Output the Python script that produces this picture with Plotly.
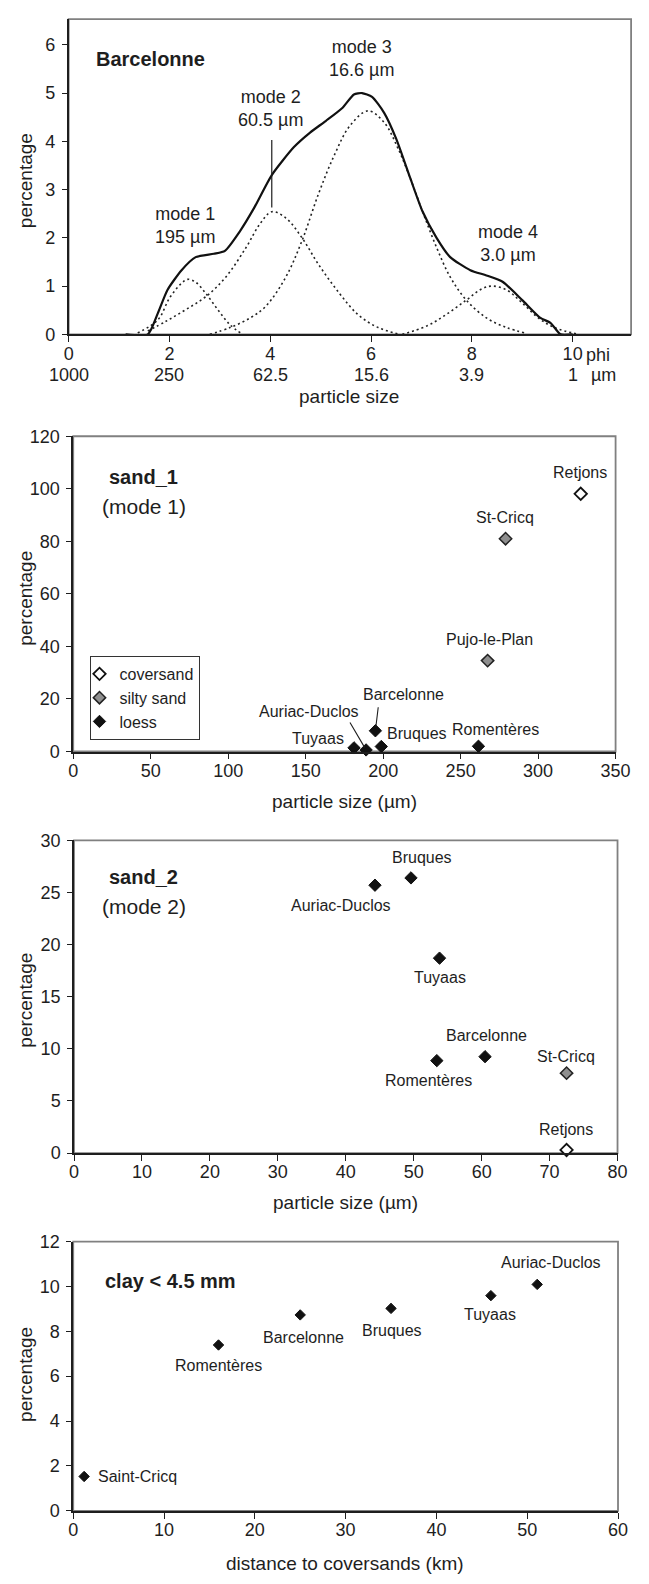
import plotly.graph_objects as go

# ---------------- data ----------------
# Panel 1: Barcelonne grain-size distribution (phi scale)
phi_ticks = [0, 2, 4, 6, 8, 10]
phi_labels = ["0", "2", "4", "6", "8", "10"]
um_labels = ["1000", "250", "62.5", "15.6", "3.9", "1"]

total_phi = [1.13, 1.57, 1.77, 1.96, 2.24, 2.52, 2.88, 3.10, 3.40, 3.68, 4.03, 4.47, 4.79, 5.10,
             5.43, 5.66, 5.82, 6.02, 6.26, 6.50, 6.78, 7.02, 7.30, 7.57, 7.97, 8.29, 8.61, 9.00,
             9.36, 9.56, 9.76, 10.0]
total_pct = [0.0, 0.0, 0.44, 0.92, 1.33, 1.60, 1.67, 1.73, 2.14, 2.62, 3.30, 3.88, 4.18, 4.42,
             4.69, 4.97, 5.00, 4.92, 4.59, 4.05, 3.23, 2.55, 2.00, 1.60, 1.33, 1.22, 1.09, 0.71,
             0.34, 0.24, 0.0, 0.0]

mode1_phi = [1.37, 1.77, 2.00, 2.24, 2.36, 2.52, 2.72, 2.96, 3.20, 3.45]
mode1_pct = [0.03, 0.30, 0.75, 1.06, 1.14, 1.08, 0.85, 0.51, 0.20, 0.0]
mode2_phi = [1.57, 1.93, 2.32, 2.72, 3.12, 3.52, 3.79, 4.03, 4.31, 4.63, 4.95, 5.35, 5.74, 6.14, 6.58]
mode2_pct = [0.07, 0.27, 0.51, 0.78, 1.19, 1.80, 2.28, 2.54, 2.41, 2.00, 1.46, 0.88, 0.41, 0.14, 0.0]
mode3_phi = [2.80, 3.20, 3.60, 3.91, 4.31, 4.63, 4.95, 5.27, 5.58, 5.94, 6.26, 6.54, 6.78, 7.02,
             7.30, 7.57, 7.89, 8.29, 8.69, 9.08]
mode3_pct = [0.0, 0.14, 0.34, 0.58, 1.19, 1.94, 2.89, 3.71, 4.32, 4.63, 4.39, 3.84, 3.23, 2.55,
             1.80, 1.19, 0.71, 0.34, 0.14, 0.02]
mode4_phi = [6.62, 7.10, 7.49, 7.89, 8.21, 8.41, 8.69, 9.00, 9.32, 9.64, 10.12]
mode4_pct = [0.0, 0.17, 0.41, 0.71, 0.95, 1.00, 0.92, 0.65, 0.34, 0.14, 0.0]

mode_names = ["mode 1<br>195 µm", "mode 2<br>60.5 µm", "mode 3<br>16.6 µm", "mode 4<br>3.0 µm"]
mode_label_phi = [2.30, 4.00, 5.82, 8.71]
mode_label_pct = [2.25, 4.67, 5.71, 1.88]

# Panel 2: sand_1 (mode 1)
sand1_sites = ["Retjons", "St-Cricq", "Pujo-le-Plan", "Romentères", "Bruques", "Barcelonne",
               "Auriac-Duclos", "Tuyaas"]
sand1_size = [327.5, 279.0, 267.4, 261.5, 198.8, 195.0, 189.0, 181.2]
sand1_pct = [98.1, 81.0, 34.6, 2.0, 1.9, 7.9, 0.6, 1.4]
sand1_type = ["coversand", "silty sand", "silty sand", "loess", "loess", "loess", "loess", "loess"]

# Panel 3: sand_2 (mode 2)
sand2_sites = ["Auriac-Duclos", "Bruques", "Tuyaas", "Barcelonne", "Romentères", "St-Cricq", "Retjons"]
sand2_size = [44.3, 49.6, 53.8, 60.5, 53.4, 72.5, 72.5]
sand2_pct = [25.7, 26.4, 18.7, 9.25, 8.87, 7.67, 0.3]
sand2_type = ["loess", "loess", "loess", "loess", "loess", "silty sand", "coversand"]

# Panel 4: clay < 4.5 mm
clay_sites = ["Saint-Cricq", "Romentères", "Barcelonne", "Bruques", "Tuyaas", "Auriac-Duclos"]
clay_dist = [1.2, 16.0, 25.0, 35.0, 46.0, 51.1]
clay_pct = [1.53, 7.39, 8.73, 9.02, 9.59, 10.09]

categories = ["coversand", "silty sand", "loess"]

# ---------------- styles / layout helpers ----------------
W, H = 649, 1584
FONT = "Liberation Sans, Arial, sans-serif"
INK = "#1e1e1e"

cat_style = {
    "coversand": dict(color="white", line=dict(color="#111", width=1.8)),
    "silty sand": dict(color="#8f8f8f", line=dict(color="#222", width=1.5)),
    "loess": dict(color="#111", line=dict(color="#111", width=1)),
}

def px_x(x):
    return x / W

def px_y(y):
    return 1 - y / H

# panel pixel boxes (left, top, right, bottom)
boxes = {
    1: (65.7, 9.3, 646.0, 328.5),
    2: (70.4, 431.7, 630.0, 751.0),
    3: (71.2, 841.0, 632.0, 1157.7),
    4: (70.4, 1247.3, 632.5, 1520.0),
}

fig = go.Figure()

# ---------- panel 1 traces ----------
for ph, pc in [(mode1_phi, mode1_pct), (mode2_phi, mode2_pct), (mode3_phi, mode3_pct), (mode4_phi, mode4_pct)]:
    fig.add_trace(go.Scatter(x=ph, y=pc, mode="lines", xaxis="x", yaxis="y", showlegend=False,
                             line=dict(color="#222", width=1.6, dash="2px,3px", shape="spline", smoothing=1.0),
                             hoverinfo="skip"))
fig.add_trace(go.Scatter(x=total_phi, y=total_pct, mode="lines", xaxis="x", yaxis="y", showlegend=False,
                         line=dict(color="#111", width=2.2, shape="spline", smoothing=0.6), hoverinfo="skip"))

# ---------- panel 2 & 3 traces ----------
def add_cat_traces(xs, ys, types, xa, ya, legend):
    for cat in categories:
        sel = [i for i, t in enumerate(types) if t == cat]
        st = cat_style[cat]
        fig.add_trace(go.Scatter(
            x=[xs[i] for i in sel], y=[ys[i] for i in sel], mode="markers",
            xaxis=xa, yaxis=ya, name=cat, showlegend=legend, cliponaxis=False,
            marker=dict(symbol="diamond", size=9.5, color=st["color"], line=st["line"])))

add_cat_traces(sand1_size, sand1_pct, sand1_type, "x2", "y2", True)
add_cat_traces(sand2_size, sand2_pct, sand2_type, "x3", "y3", False)

# ---------- panel 4 ----------
fig.add_trace(go.Scatter(x=clay_dist, y=clay_pct, mode="markers", xaxis="x4", yaxis="y4",
                         showlegend=False, cliponaxis=False,
                         marker=dict(symbol="diamond", size=8, color="#111", line=dict(color="#111", width=1))))

# ---------- axes ----------
def axis_common():
    return dict(showline=True, linecolor=INK, linewidth=1.5, ticks="outside", ticklen=6,
                tickwidth=1.3, tickcolor=INK, showgrid=False, zeroline=False,
                tickfont=dict(size=18, color=INK, family=FONT), fixedrange=True)

ranges = {
    1: ([0, 11.16], [0, 6.53]),
    2: ([0, 350], [0, 120]),
    3: ([0, 80], [0, 30]),
    4: ([0, 60], [0, 12]),
}
yticks = {1: list(range(0, 7)), 2: list(range(0, 121, 20)), 3: list(range(0, 31, 5)), 4: list(range(0, 13, 2))}
xticks = {2: list(range(0, 351, 50)), 3: list(range(0, 81, 10)), 4: list(range(0, 61, 10))}

layout_axes = {}
for k in range(1, 5):
    l, t, r, b = boxes[k]
    xa = axis_common()
    xa.update(domain=[px_x(l), px_x(r)], range=ranges[k][0], anchor="y" if k == 1 else f"y{k}",
              ticklabelstandoff=-4)
    if k == 1:
        xa.update(tickmode="array", tickvals=phi_ticks, ticktext=phi_labels)
    else:
        xa.update(tickmode="array", tickvals=xticks[k])
    ya = axis_common()
    ya.update(domain=[px_y(b), px_y(t)], range=ranges[k][1], anchor="x" if k == 1 else f"x{k}",
              tickmode="array", tickvals=yticks[k], ticklen=5, ticklabelstandoff=3)
    layout_axes["xaxis" if k == 1 else f"xaxis{k}"] = xa
    layout_axes["yaxis" if k == 1 else f"yaxis{k}"] = ya

# ---------- frame rectangles ----------
shapes = []
for k in range(1, 5):
    xr = "x domain" if k == 1 else f"x{k} domain"
    yr = "y domain" if k == 1 else f"y{k} domain"
    shapes.append(dict(type="rect", xref=xr, yref=yr, x0=0, x1=1, y0=0, y1=1, layer="below",
                       line=dict(color="#808080", width=1.8)))

# ---------- annotations ----------
ann = []

def text_ann(x, y, text, size=18, xanchor="center", yanchor="middle", bold=False, family=FONT,
             xref="paper", yref="paper", textangle=0, xshift=0, yshift=0):
    ann.append(dict(x=x, y=y, xref=xref, yref=yref, text=(f"<b>{text}</b>" if bold else text),
                    showarrow=False, xanchor=xanchor, yanchor=yanchor, textangle=textangle,
                    xshift=xshift, yshift=yshift,
                    font=dict(size=size, color=INK, family=family)))

# y-axis titles
for yc in [173, 596, 1003, 1382]:
    text_ann(px_x(21), px_y(yc), "percentage", size=19, textangle=-90)

# x-axis titles
text_ann(px_x(355), px_y(391), "particle size", size=19)
text_ann(px_x(350), px_y(802), "particle size (µm)", size=19)
text_ann(px_x(351), px_y(1208), "particle size (µm)", size=19)
text_ann(px_x(351), px_y(1573), "distance to coversands (km)", size=19)

# panel 1 second row of tick labels (µm) and the units of both rows
for v, lab in zip(phi_ticks, um_labels):
    text_ann(v, px_y(370), lab, size=18, xref="x")
text_ann(10, px_y(349), "phi", size=18, xref="x", xanchor="left", xshift=11)
text_ann(10, px_y(370), "µm", size=18, xref="x", xanchor="left", xshift=16)

# panel titles
text_ann(0.51, 5.70, "Barcelonne", size=20, bold=True, xref="x", yref="y", xanchor="left")
text_ann(px_x(143), px_y(473), "sand_1", size=20, bold=True)
text_ann(px_x(143), px_y(503), "(mode 1)", size=21)
text_ann(px_x(143), px_y(878), "sand_2", size=20, bold=True)
text_ann(px_x(143), px_y(908), "(mode 2)", size=21)
text_ann(px_x(101), px_y(1287), "clay &lt; 4.5 mm", size=20, bold=True, xanchor="left")

# mode labels (panel 1)
for nm, xv, yv in zip(mode_names, mode_label_phi, mode_label_pct):
    text_ann(xv, yv, nm, size=18, xref="x", yref="y")
# mode 2 pointer line
ann.append(dict(x=mode_label_phi[1] + 0.03, y=2.63, xref="x", yref="y", axref="x", ayref="y",
                ax=mode_label_phi[1] + 0.03, ay=4.06, text="", showarrow=True, arrowhead=0,
                arrowwidth=1.2, arrowcolor=INK, standoff=0, startstandoff=0))

# site labels: (dx, dy, anchor) offsets in pixels
off1 = {"Retjons": (-1, 21, "center"), "St-Cricq": (-1, 21, "center"), "Pujo-le-Plan": (2, 21, "center"),
        "Romentères": (17, 17, "center"), "Bruques": (36, 13, "center"), "Barcelonne": (28, 36, "center"),
        "Auriac-Duclos": (-57, 38, "center"), "Tuyaas": (-36, 9, "center")}
off2 = {"Auriac-Duclos": (-34, -20, "center"), "Bruques": (11, 20, "center"), "Tuyaas": (0, -19, "center"),
        "Barcelonne": (1, 21, "center"), "Romentères": (-8, -20, "center"), "St-Cricq": (-1, 17, "center"),
        "Retjons": (-1, 20, "center")}
off3 = {"Saint-Cricq": (12, 0, "left"), "Romentères": (0, -21, "center"), "Barcelonne": (3, -23, "center"),
        "Bruques": (1, -22, "center"), "Tuyaas": (-1, -19, "center"), "Auriac-Duclos": (14, 22, "center")}

for sites, xs, ys, offs, k in [(sand1_sites, sand1_size, sand1_pct, off1, 2),
                               (sand2_sites, sand2_size, sand2_pct, off2, 3),
                               (clay_sites, clay_dist, clay_pct, off3, 4)]:
    for s, xv, yv in zip(sites, xs, ys):
        dx, dy, anc = offs[s]
        text_ann(xv, yv, s, size=16, xref=f"x{k}", yref=f"y{k}", xanchor=anc, xshift=dx, yshift=dy)

# leader lines in panel 2
leaders = {"Barcelonne": (3, -25, 4), "Auriac-Duclos": (-17, -29, 3)}
for s, xv, yv in zip(sand1_sites, sand1_size, sand1_pct):
    if s in leaders:
        ax_, ay_, so = leaders[s]
        ann.append(dict(x=xv, y=yv, xref="x2", yref="y2", ax=ax_, ay=ay_, text="", showarrow=True,
                        arrowhead=0, arrowwidth=1.1, arrowcolor=INK, standoff=so))

fig.update_layout(
    width=W, height=H, margin=dict(l=0, r=0, t=0, b=0),
    paper_bgcolor="white", plot_bgcolor="white",
    font=dict(family=FONT, size=18, color=INK),
    shapes=shapes, annotations=ann,
    legend=dict(x=px_x(88), y=px_y(654), xanchor="left", yanchor="top", bgcolor="white",
                bordercolor="#333", borderwidth=1.2, font=dict(size=16, family=FONT, color=INK),
                itemwidth=30, indentation=-12, tracegroupgap=0, traceorder="normal"),
    **layout_axes,
)

fig.write_html("out.html", config={"displayModeBar": False},
               post_script="document.body.style.margin='0px';document.body.style.overflow='hidden';")
